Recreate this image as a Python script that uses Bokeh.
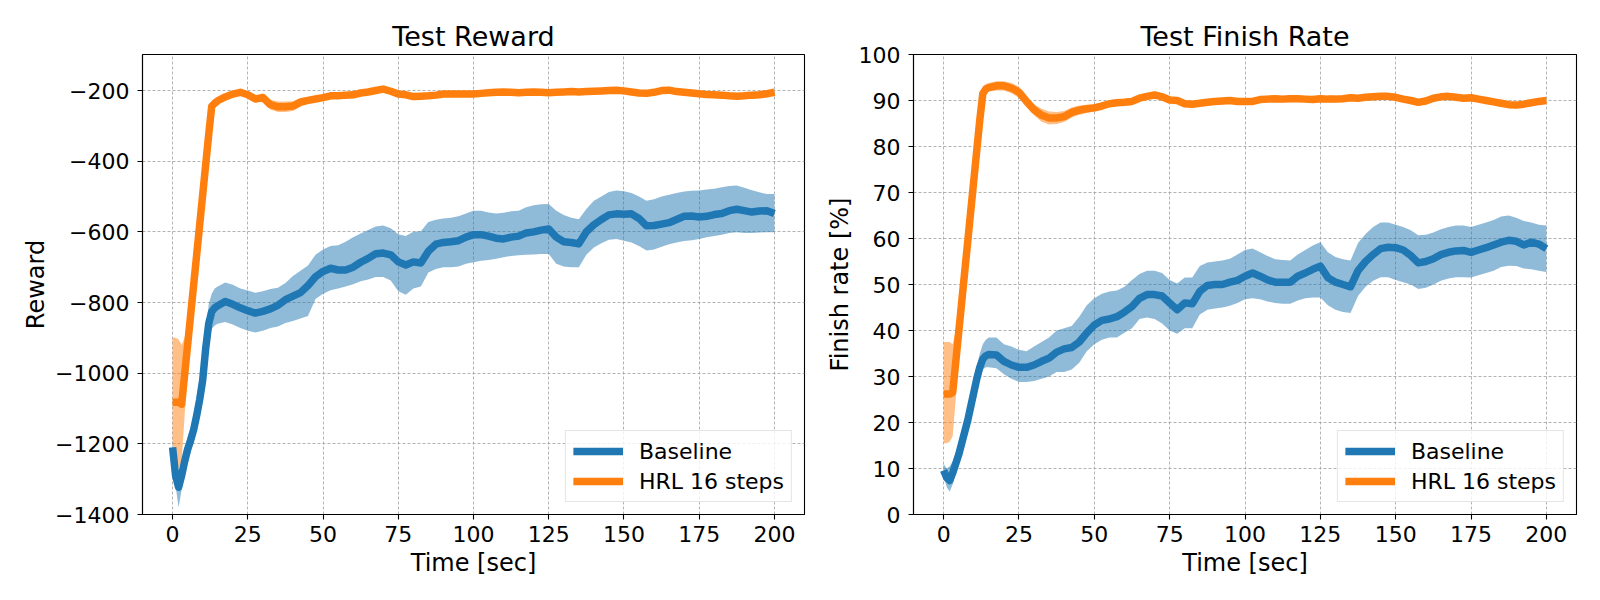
from bokeh.plotting import figure
from bokeh.models import ColumnDataSource, FixedTicker, Legend, LegendItem, Range1d
from bokeh.layouts import row
from bokeh.embed import file_html
from bokeh.resources import INLINE

FONT = "DejaVu Sans"
BLUE = "#1f77b4"
ORANGE = "#ff7f0e"

# ---------------- data ----------------
time_sec = [0, 1, 2, 3, 4, 5, 6, 7, 8, 9, 10, 11, 12, 13, 14, 15,
            17.5, 20, 22.5, 25, 27.5, 30, 32.5, 35, 37.5, 40,
            42.5, 45, 47.5, 50, 52.5, 55, 57.5, 60, 62.5, 65,
            67.5, 70, 72.5, 75, 77.5, 80, 82.5, 85, 87.5, 90,
            92.5, 95, 97.5, 100, 102.5, 105, 107.5, 110, 112.5, 115,
            117.5, 120, 122.5, 125, 127.5, 130, 132.5, 135, 137.5, 140,
            142.5, 145, 147.5, 150, 152.5, 155, 157.5, 160, 162.5, 165,
            167.5, 170, 172.5, 175, 177.5, 180, 182.5, 185, 187.5, 190,
            192.5, 195, 197.5, 200]

# Test Reward - Baseline
reward_base = [-1210, -1290, -1323, -1290, -1250, -1215, -1190, -1160, -1120, -1075, -1020, -930, -860, -826, -815, -809,
               -797, -805, -815, -823, -830, -825, -818, -808, -792, -782,
               -772, -752, -727, -712, -703, -708, -708, -700, -686, -675,
               -662, -660, -665, -685, -694, -685, -688, -655, -635, -630,
               -628, -625, -615, -608, -608, -612, -618, -620, -615, -612,
               -603, -600, -595, -592, -615, -628, -630, -634, -600, -580,
               -565, -552, -549, -550, -549, -562, -583, -582, -578, -574,
               -565, -556, -555, -558, -556, -551, -548, -540, -536, -540,
               -544, -541, -540, -548]
reward_base_lo = [-1225, -1320, -1380, -1330, -1285, -1250, -1225, -1195, -1155, -1110, -1055, -975, -905, -875, -865, -860,
                  -855, -862, -872, -880, -885, -880, -872, -868, -858, -852,
                  -845, -838, -790, -775, -765, -760, -755, -748, -740, -735,
                  -728, -728, -738, -768, -778, -760, -755, -715, -705, -700,
                  -700, -698, -690, -686, -682, -680, -676, -672, -668, -666,
                  -665, -664, -663, -663, -690, -698, -700, -700, -665, -644,
                  -632, -622, -620, -625, -630, -640, -653, -650, -642, -635,
                  -630, -626, -624, -620, -615, -612, -608, -603, -601, -603,
                  -603, -602, -601, -601]
reward_base_hi = [-1195, -1260, -1280, -1250, -1215, -1180, -1155, -1125, -1085, -1040, -985, -885, -805, -775, -760, -755,
                  -743, -750, -760, -766, -772, -768, -762, -758, -745, -725,
                  -710, -695, -665, -650, -640, -638, -628, -615, -605, -595,
                  -585, -582, -590, -607, -612, -600, -598, -572, -566, -562,
                  -560, -556, -548, -540, -540, -545, -548, -546, -542, -540,
                  -530, -525, -522, -521, -540, -552, -560, -564, -535, -512,
                  -500, -487, -483, -485, -490, -500, -512, -508, -500, -495,
                  -490, -486, -484, -483, -480, -478, -474, -470, -469, -475,
                  -482, -488, -493, -493]

# Test Reward - HRL 16 steps
reward_hrl = [-1082, -1082, -1082, -1088, -1005, -920, -835, -750, -665, -580, -495, -410, -325, -245, -236, -229,
              -218, -210, -205, -212, -224, -220, -240, -246, -246, -244,
              -233, -228, -224, -220, -215, -215, -213, -212, -207, -204,
              -200, -196, -202, -210, -212, -217, -216, -215, -213, -210,
              -210, -210, -210, -210, -208, -206, -205, -204, -205, -206,
              -205, -204, -205, -206, -205, -204, -203, -204, -203, -202,
              -201, -200, -199, -201, -204, -207, -208, -205, -200, -199,
              -203, -205, -207, -209, -211, -212, -213, -215, -216, -215,
              -213, -212, -209, -205]
reward_hrl_lo = [-1200, -1240, -1270, -1250, -1120, -990, -880, -780, -690, -600, -512, -425, -338, -256, -246, -238,
                 -226, -218, -213, -220, -233, -232, -254, -261, -261, -258,
                 -245, -238, -233, -228, -223, -222, -220, -219, -214, -211,
                 -207, -203, -209, -217, -219, -224, -223, -222, -220, -217,
                 -217, -217, -217, -217, -215, -213, -212, -211, -212, -213,
                 -212, -211, -212, -213, -212, -211, -210, -211, -210, -209,
                 -208, -207, -206, -208, -211, -214, -215, -212, -207, -206,
                 -210, -212, -214, -216, -218, -219, -220, -222, -223, -222,
                 -220, -219, -216, -212]
reward_hrl_hi = [-900, -900, -905, -920, -900, -860, -800, -725, -645, -562, -480, -396, -313, -234, -226, -220,
                 -210, -202, -197, -204, -215, -208, -226, -231, -231, -230,
                 -221, -218, -215, -212, -207, -208, -206, -205, -200, -197,
                 -193, -189, -195, -203, -205, -210, -209, -208, -206, -203,
                 -203, -203, -203, -203, -201, -199, -198, -197, -198, -199,
                 -198, -197, -198, -199, -198, -197, -196, -197, -196, -195,
                 -194, -193, -192, -194, -197, -200, -201, -198, -193, -192,
                 -196, -198, -200, -202, -204, -205, -206, -208, -209, -208,
                 -206, -205, -202, -198]

# Test Finish Rate - Baseline
finish_base = [9.6, 8.0, 7.4, 9.0, 11.0, 13.0, 15.5, 18.0, 20.5, 23.5, 26.5, 29.5, 32.0, 33.8, 34.5, 34.8,
               34.7, 33.3, 32.5, 32.0, 32.0, 32.5, 33.3, 34.0, 35.3, 36.0,
               36.3, 37.5, 39.5, 41.2, 42.2, 42.5, 43.0, 44.0, 45.2, 47.0,
               47.8, 47.8, 47.5, 46.0, 44.5, 46.0, 45.8, 48.5, 49.8, 50.0,
               50.0, 50.5, 50.9, 51.8, 52.5, 51.8, 51.0, 50.5, 50.5, 50.5,
               51.8, 52.5, 53.3, 54.0, 51.5, 50.5, 50.0, 49.5, 53.0, 55.0,
               56.5, 57.8, 58.1, 58.0, 57.5, 56.3, 54.7, 55.0, 55.6, 56.5,
               57.0, 57.3, 57.4, 57.0, 57.5, 58.0, 58.6, 59.2, 59.6, 59.4,
               58.6, 59.2, 58.8, 57.8]
finish_base_lo = [8.5, 6.0, 5.0, 6.5, 9.0, 11.0, 13.5, 16.0, 18.5, 21.5, 24.5, 27.0, 29.5, 31.5, 32.0, 32.0,
                  31.8, 30.5, 29.5, 28.8, 28.8, 29.0, 29.5, 30.0, 31.0, 31.0,
                  31.5, 33.0, 35.5, 37.0, 38.0, 38.5, 38.5, 39.5, 40.5, 42.5,
                  42.8, 42.5, 41.5, 40.0, 39.3, 40.5, 40.5, 43.5, 44.5, 44.8,
                  45.0, 45.4, 46.0, 46.8, 47.0, 46.8, 46.3, 46.0, 45.8, 45.8,
                  46.5, 47.0, 47.2, 47.2, 45.5, 44.5, 44.0, 43.8, 47.5, 49.5,
                  50.8, 51.6, 51.6, 51.0, 50.5, 50.0, 49.0, 49.3, 50.0, 50.8,
                  51.3, 51.6, 51.6, 51.5, 52.0, 52.5, 53.0, 53.8, 54.1, 54.0,
                  53.5, 53.3, 53.0, 52.7]
finish_base_hi = [11.0, 10.0, 10.5, 11.5, 13.5, 15.0, 17.5, 20.0, 22.5, 25.5, 28.5, 32.0, 35.0, 37.0, 38.0, 38.5,
                  38.5, 37.0, 36.5, 35.8, 35.5, 36.5, 37.5, 38.5, 40.0, 40.5,
                  41.0, 43.0, 45.5, 47.0, 48.0, 48.5, 48.7, 49.5, 51.0, 52.3,
                  53.0, 53.0, 52.5, 51.0, 50.2, 51.5, 51.5, 54.0, 54.8, 55.0,
                  55.2, 55.6, 56.5, 57.5, 57.8, 57.0, 56.2, 55.5, 55.3, 55.2,
                  56.5, 57.5, 58.5, 59.2, 57.0, 56.0, 55.5, 55.2, 59.0, 61.0,
                  62.5, 63.5, 63.5, 63.0, 62.5, 61.8, 60.7, 60.8, 61.3, 62.0,
                  62.5, 62.8, 62.8, 62.5, 63.0, 63.5, 64.0, 64.8, 65.0, 64.5,
                  63.8, 63.5, 63.0, 62.8]

# Test Finish Rate - HRL 16 steps
finish_hrl = [26.2, 26.2, 26.2, 26.5, 33.0, 39.6, 46.2, 52.8, 59.4, 66.0, 72.6, 79.2, 85.8, 91.5, 92.5, 92.8,
              93.2, 93.2, 92.7, 91.8, 89.8, 88.0, 86.8, 86.2, 86.2, 86.5,
              87.4, 87.9, 88.2, 88.4, 88.8, 89.3, 89.5, 89.6, 89.8, 90.5,
              90.9, 91.2, 90.8, 90.1, 90.0, 89.3, 89.2, 89.4, 89.6, 89.8,
              89.9, 90.0, 89.8, 89.8, 89.8, 90.2, 90.3, 90.4, 90.3, 90.4,
              90.4, 90.3, 90.2, 90.4, 90.3, 90.3, 90.4, 90.6, 90.5, 90.7,
              90.8, 90.9, 90.9, 90.7, 90.3, 90.0, 89.6, 89.9, 90.5, 90.8,
              90.9, 90.7, 90.5, 90.6, 90.3, 90.0, 89.7, 89.4, 89.1, 89.0,
              89.2, 89.5, 89.8, 90.0]
finish_hrl_lo = [15.5, 15.5, 15.8, 17.0, 25.0, 36.0, 45.0, 51.5, 58.5, 65.2, 71.8, 78.4, 85.0, 90.5, 91.6, 92.0,
                 92.2, 92.2, 91.6, 90.6, 88.6, 86.8, 85.4, 84.8, 84.9, 85.3,
                 86.3, 86.9, 87.3, 87.6, 88.0, 88.6, 88.8, 88.9, 89.1, 89.8,
                 90.2, 90.5, 90.1, 89.4, 89.3, 88.6, 88.5, 88.7, 88.9, 89.1,
                 89.2, 89.3, 89.1, 89.1, 89.1, 89.5, 89.6, 89.7, 89.6, 89.7,
                 89.7, 89.6, 89.5, 89.7, 89.6, 89.6, 89.7, 89.9, 89.8, 90.0,
                 90.1, 90.2, 90.2, 90.0, 89.6, 89.3, 88.9, 89.2, 89.8, 90.1,
                 90.2, 90.0, 89.8, 89.9, 89.6, 89.3, 89.0, 88.7, 88.4, 88.3,
                 88.5, 88.8, 89.1, 89.3]
finish_hrl_hi = [37.5, 37.5, 37.5, 37.0, 40.0, 44.0, 49.0, 55.0, 61.0, 67.5, 74.0, 80.5, 87.0, 92.8, 93.6, 93.8,
                 94.2, 94.2, 93.8, 93.0, 91.0, 89.2, 88.2, 87.6, 87.5, 87.7,
                 88.5, 88.9, 89.1, 89.2, 89.6, 90.0, 90.2, 90.3, 90.5, 91.2,
                 91.6, 91.9, 91.5, 90.8, 90.7, 90.0, 89.9, 90.1, 90.3, 90.5,
                 90.6, 90.7, 90.5, 90.5, 90.5, 90.9, 91.0, 91.1, 91.0, 91.1,
                 91.1, 91.0, 90.9, 91.1, 91.0, 91.0, 91.1, 91.3, 91.2, 91.4,
                 91.5, 91.6, 91.6, 91.4, 91.0, 90.7, 90.3, 90.6, 91.2, 91.5,
                 91.6, 91.4, 91.2, 91.3, 91.0, 90.7, 90.4, 90.1, 89.8, 89.7,
                 89.9, 90.2, 90.5, 90.7]

x_ticks = [0, 25, 50, 75, 100, 125, 150, 175, 200]
reward_ticks = [-1400, -1200, -1000, -800, -600, -400, -200]
finish_ticks = [0, 10, 20, 30, 40, 50, 60, 70, 80, 90, 100]
series_names = ["Baseline", "HRL 16 steps"]
titles = ["Test Reward", "Test Finish Rate"]
y_labels = ["Reward", "Finish rate [%]"]
x_label = "Time [sec]"


def make_panel(title, ylabel, yticks, yrange, base, base_lo, base_hi, hrl, hrl_lo, hrl_hi,
               width, left, right):
    p = figure(width=width, height=592, output_backend="svg", toolbar_location=None,
               x_range=Range1d(-10, 210), y_range=Range1d(*yrange),
               min_border_left=left, min_border_right=right,
               min_border_top=54, min_border_bottom=78)
    src = ColumnDataSource(dict(t=time_sec, b=base, blo=base_lo, bhi=base_hi,
                                h=hrl, hlo=hrl_lo, hhi=hrl_hi))
    p.varea(x="t", y1="blo", y2="bhi", source=src, fill_color=BLUE, fill_alpha=0.5)
    p.varea(x="t", y1="hlo", y2="hhi", source=src, fill_color=ORANGE, fill_alpha=0.5)
    r1 = p.line(x="t", y="b", source=src, line_color=BLUE, line_width=7.5, line_join="round")
    r2 = p.line(x="t", y="h", source=src, line_color=ORANGE, line_width=7.5, line_join="round")

    p.title.text = title
    p.title.align = "center"
    p.title.text_font = FONT
    p.title.text_font_size = "27px"
    p.title.text_font_style = "normal"
    p.title.text_color = "black"
    p.title.standoff = 6

    p.xaxis.ticker = FixedTicker(ticks=x_ticks)
    p.yaxis.ticker = FixedTicker(ticks=yticks)
    p.yaxis.major_label_overrides = {v: ("\u2212" + str(abs(v)) if v < 0 else str(v)) for v in yticks}
    p.xaxis.axis_label = x_label
    p.yaxis.axis_label = ylabel
    for ax in (p.xaxis, p.yaxis):
        ax.axis_line_color = "black"
        ax.axis_line_width = 1.1
        ax.major_tick_line_color = "black"
        ax.major_tick_line_width = 1.1
        ax.major_tick_out = 5
        ax.major_tick_in = 0
        ax.minor_tick_line_color = None
        ax.major_label_text_font = FONT
        ax.major_label_text_font_size = "22px"
        ax.major_label_text_color = "black"
        ax.axis_label_text_font = FONT
        ax.axis_label_text_font_size = "24px"
        ax.axis_label_text_font_style = "normal"
        ax.axis_label_text_color = "black"
    p.xaxis.major_label_standoff = 6
    p.yaxis.major_label_standoff = 8
    p.xaxis.axis_label_standoff = 4
    p.yaxis.axis_label_standoff = 2

    p.grid.grid_line_color = "#a0a0a0"
    p.grid.grid_line_dash = "3 2"
    p.grid.grid_line_width = 0.8
    p.outline_line_color = "black"
    p.outline_line_width = 1.1
    p.outline_line_alpha = 1.0
    p.background_fill_color = "white"
    p.border_fill_color = "white"

    legend = Legend(items=[LegendItem(label=series_names[0], renderers=[r1]),
                           LegendItem(label=series_names[1], renderers=[r2])],
                    location="bottom_right")
    legend.margin = 12
    legend.padding = 7
    legend.spacing = 4
    legend.glyph_width = 50
    legend.glyph_height = 26
    legend.label_height = 26
    legend.label_standoff = 16
    legend.label_text_font = FONT
    legend.label_text_font_size = "22px"
    legend.label_text_color = "black"
    legend.border_line_color = "#cccccc"
    legend.border_line_width = 1
    legend.background_fill_color = "white"
    legend.background_fill_alpha = 0.8
    p.add_layout(legend)
    return p


p1 = make_panel(titles[0], y_labels[0], reward_ticks, (-1400, -98),
                reward_base, reward_base_lo, reward_base_hi,
                reward_hrl, reward_hrl_lo, reward_hrl_hi,
                width=814, left=142, right=10)
p2 = make_panel(titles[1], y_labels[1], finish_ticks, (0, 100),
                finish_base, finish_base_lo, finish_base_hi,
                finish_hrl, finish_hrl_lo, finish_hrl_hi,
                width=778, left=99, right=16)

layout = row(p1, p2)
open("out.html", "w").write(file_html(layout, INLINE))
